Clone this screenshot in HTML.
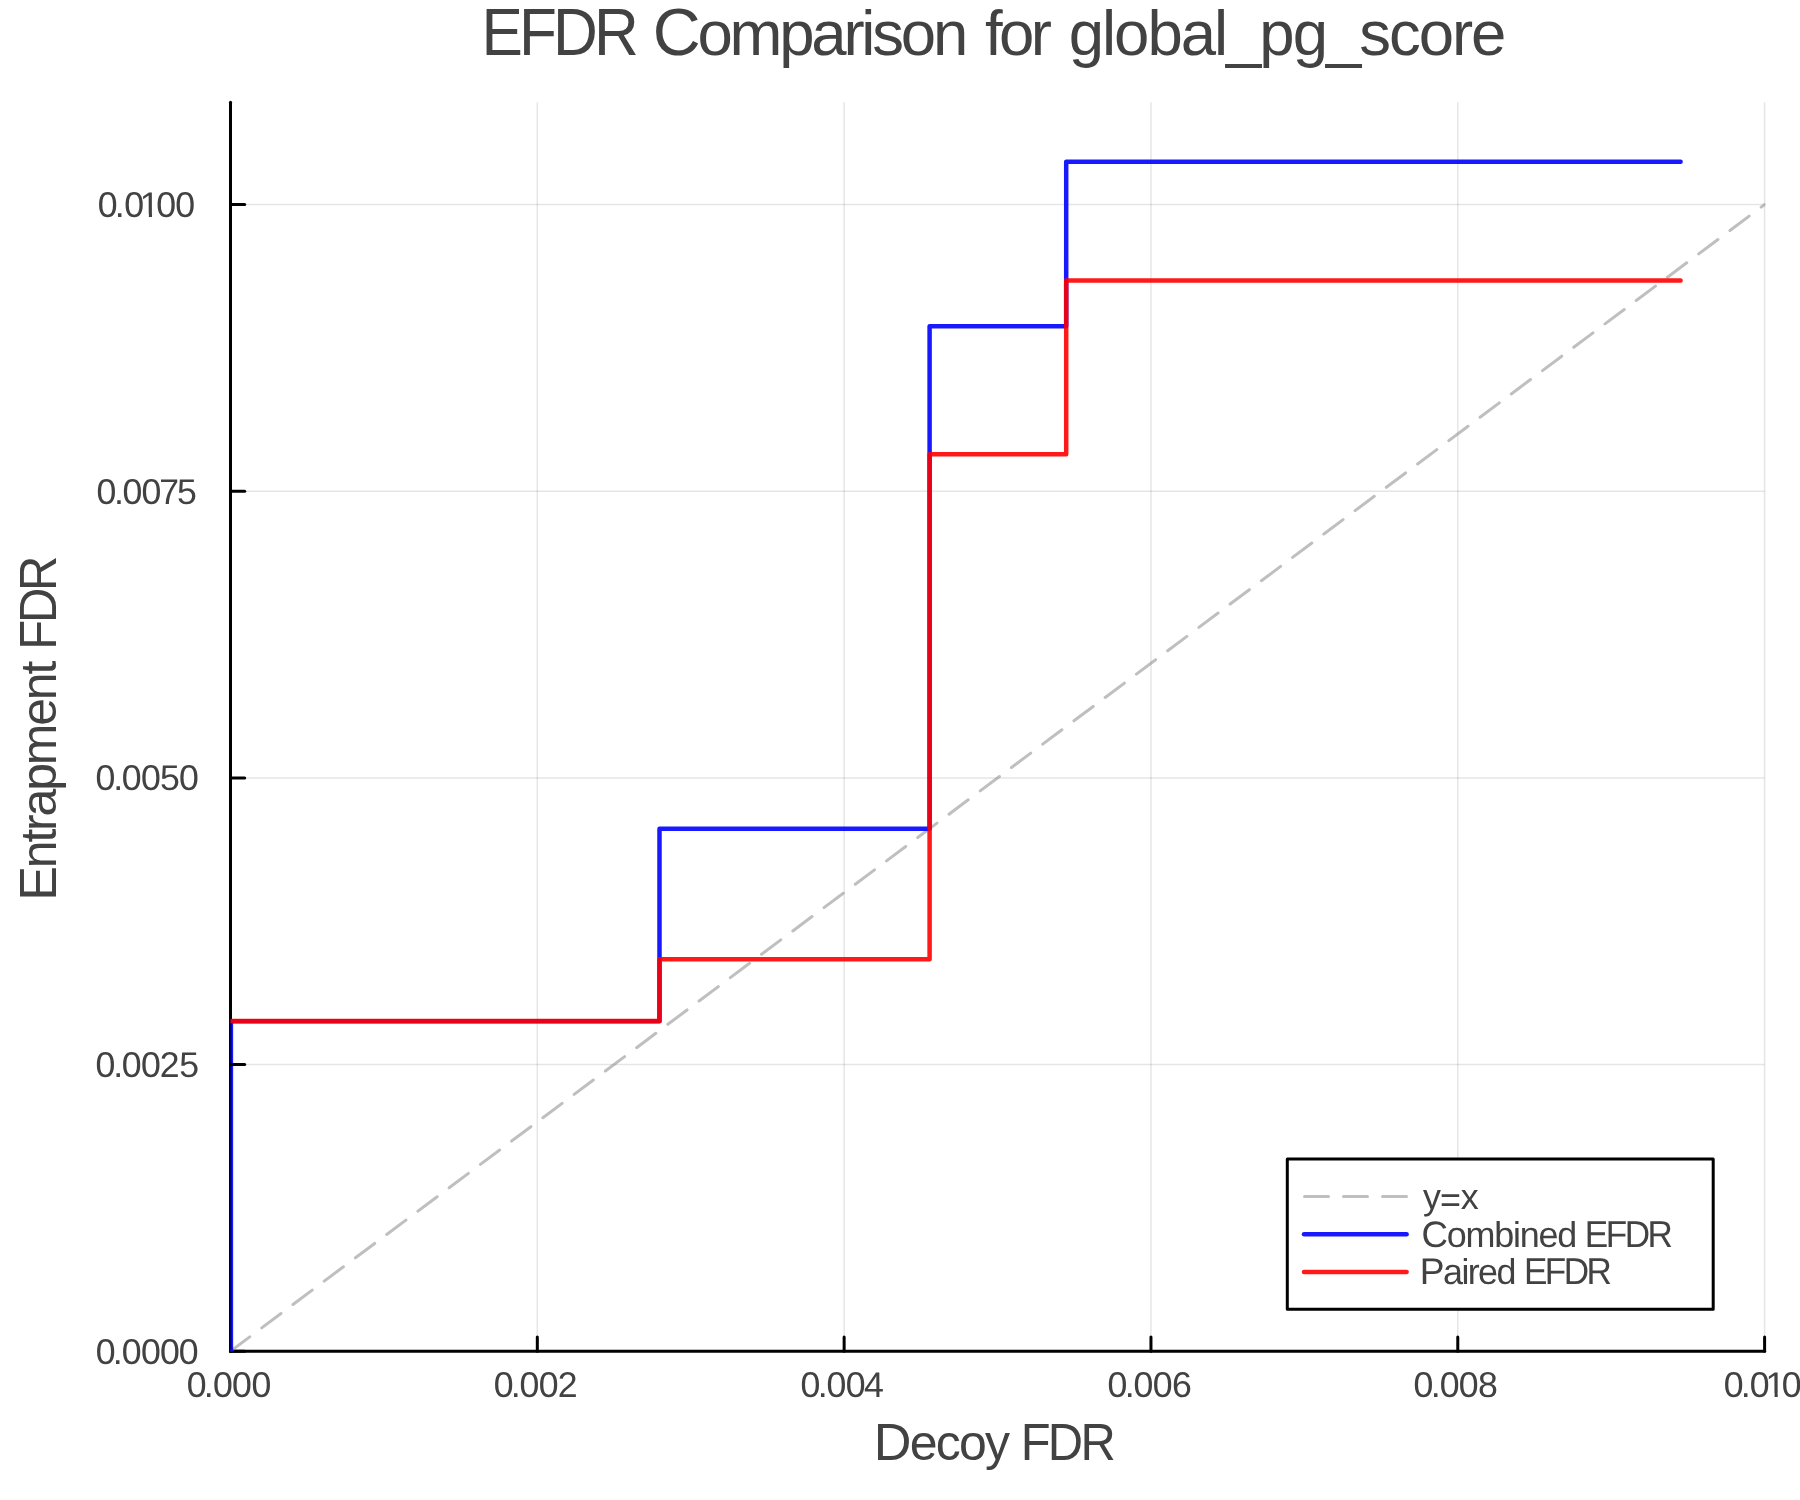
<!DOCTYPE html>
<html lang="en"><head><meta charset="utf-8"><title>EFDR Comparison for global_pg_score</title>
<style>html,body{margin:0;padding:0;background:#fff}svg{display:block;will-change:transform}text{font-family:"Liberation Sans", sans-serif;fill:#424242}</style>
</head><body>
<svg width="1800" height="1500" viewBox="0 0 1800 1500">
<rect width="1800" height="1500" fill="#fff"/>
<defs><clipPath id="plot"><rect x="230.50" y="102.20" width="1534.90" height="1249.40"/></clipPath></defs>
<g stroke="#000" stroke-opacity="0.1" stroke-width="1.5" fill="none">
<line x1="537.32" y1="102.20" x2="537.32" y2="1351.20"/>
<line x1="844.14" y1="102.20" x2="844.14" y2="1351.20"/>
<line x1="1150.96" y1="102.20" x2="1150.96" y2="1351.20"/>
<line x1="1457.78" y1="102.20" x2="1457.78" y2="1351.20"/>
<line x1="1764.60" y1="102.20" x2="1764.60" y2="1351.20"/>
<line x1="230.50" y1="1064.55" x2="1764.60" y2="1064.55"/>
<line x1="230.50" y1="777.90" x2="1764.60" y2="777.90"/>
<line x1="230.50" y1="491.25" x2="1764.60" y2="491.25"/>
<line x1="230.50" y1="204.60" x2="1764.60" y2="204.60"/>
</g>
<g stroke="#000" stroke-width="3" stroke-linecap="round" fill="none">
<line x1="230.50" y1="1351.20" x2="1764.60" y2="1351.20"/>
<line x1="230.50" y1="102.20" x2="230.50" y2="1351.20"/>
<line x1="230.50" y1="1351.20" x2="230.50" y2="1337.00"/>
<line x1="230.50" y1="1351.20" x2="244.70" y2="1351.20"/>
</g>
<g clip-path="url(#plot)" fill="none" stroke-linejoin="round" stroke-linecap="round">
<line x1="230.50" y1="1351.20" x2="1764.60" y2="204.60" stroke="#808080" stroke-opacity="0.5" stroke-width="3" stroke-dasharray="24 15"/>
<path d="M230.90 1351.20 V1021.35 H659.50 V828.70 H929.60 V326.15 H1066.20 V161.70 H1680.60" stroke="#0000ff" stroke-opacity="0.9" stroke-width="4.5"/>
<path d="M230.90 1021.10 H659.50 V959.20 H929.60 V454.25 H1066.20 V280.60 H1680.60" stroke="#ff0000" stroke-opacity="0.9" stroke-width="4.5"/>
</g>
<g stroke="#000" stroke-width="3" stroke-linecap="round" fill="none">
<line x1="537.32" y1="1351.20" x2="537.32" y2="1337.00"/>
<line x1="844.14" y1="1351.20" x2="844.14" y2="1337.00"/>
<line x1="1150.96" y1="1351.20" x2="1150.96" y2="1337.00"/>
<line x1="1457.78" y1="1351.20" x2="1457.78" y2="1337.00"/>
<line x1="1764.60" y1="1351.20" x2="1764.60" y2="1337.00"/>
<line x1="230.50" y1="1064.55" x2="244.70" y2="1064.55"/>
<line x1="230.50" y1="777.90" x2="244.70" y2="777.90"/>
<line x1="230.50" y1="491.25" x2="244.70" y2="491.25"/>
<line x1="230.50" y1="204.60" x2="244.70" y2="204.60"/>
</g>
<rect x="1287.3" y="1158.9" width="425.9" height="150.3" fill="#fff" stroke="#000" stroke-width="3" stroke-linejoin="round"/>
<g fill="none" stroke-linecap="round">
<line x1="1304.5" y1="1196.45" x2="1408" y2="1196.45" stroke="#808080" stroke-opacity="0.5" stroke-width="3" stroke-dasharray="24 15"/>
<line x1="1304" y1="1234.25" x2="1406.6" y2="1234.25" stroke="#0000ff" stroke-opacity="0.9" stroke-width="4.5"/>
<line x1="1304" y1="1271.9" x2="1406.6" y2="1271.9" stroke="#ff0000" stroke-opacity="0.9" stroke-width="4.5"/>
</g>
<text transform="translate(481.49 54.90) scale(1 1.0670)" font-size="62.10" textLength="157.38" lengthAdjust="spacing">EFDR</text>
<text transform="translate(652.73 54.90)" font-size="63.50" textLength="315.49" lengthAdjust="spacing"><tspan font-size="66.29">C</tspan>omparison</text>
<text transform="translate(985.12 54.90)" font-size="63.50" textLength="66.76" lengthAdjust="spacing">for</text>
<text transform="translate(1068.76 54.90)" font-size="63.50" textLength="437.64" lengthAdjust="spacing">global_pg_score</text>
<text transform="translate(873.73 1459.70)" font-size="50.00" textLength="136.40" lengthAdjust="spacing"><tspan font-size="52.20">D</tspan>ecoy</text>
<text transform="translate(1020.68 1459.70) scale(1 1.0670)" font-size="48.90" textLength="95.13" lengthAdjust="spacing">FDR</text>
<text transform="translate(56.20 900.83) rotate(-90)" font-size="50.00" textLength="240.18" lengthAdjust="spacing"><tspan font-size="52.20">E</tspan>ntrapment</text>
<text transform="translate(56.20 649.78) rotate(-90) scale(1 1.0670)" font-size="48.90" textLength="94.12" lengthAdjust="spacing">FDR</text>
<text transform="translate(1421.41 1246.80) skewX(0.2)" font-size="36.00" textLength="155.77" lengthAdjust="spacing"><tspan font-size="36.72">C</tspan>ombined</text>
<text transform="translate(1584.72 1246.80) scale(1 1.0670) skewX(0.2)" font-size="35.21" textLength="88.27" lengthAdjust="spacing">EFDR</text>
<text transform="translate(1419.87 1283.90) skewX(0.2)" font-size="36.00" textLength="96.60" lengthAdjust="spacing"><tspan font-size="37.26">P</tspan>aired</text>
<text transform="translate(1523.88 1283.90) scale(1 1.0670) skewX(0.2)" font-size="35.21" textLength="87.99" lengthAdjust="spacing">EFDR</text>
<text transform="translate(0 1208.80) skewX(0.2)" font-size="36.00"><tspan x="1422.94">y</tspan><tspan x="1440.02" dy="3.6">=</tspan><tspan x="1460.78" dy="-3.6">x</tspan></text>
<text transform="translate(0 1396.60) skewX(0.2)" x="186.7 203.8 213.0 232.0 251.4" font-size="35.80">0.000</text>
<text transform="translate(0 1396.60) skewX(0.2)" x="493.7 510.8 519.6 538.8 557.8" font-size="35.80">0.002</text>
<text transform="translate(0 1396.60) skewX(0.2)" x="800.6 817.8 826.6 845.8 864.0" font-size="35.80">0.004</text>
<text transform="translate(0 1396.60) skewX(0.2)" x="1107.6 1124.8 1133.6 1152.8 1172.1" font-size="35.80">0.006</text>
<text transform="translate(0 1396.60) skewX(0.2)" x="1413.6 1430.8 1439.8 1458.8 1478.0" font-size="35.80">0.008</text>
<text transform="translate(0 1363.60) skewX(0.2)" x="95.8 112.8 121.8 140.9 159.9 178.7" font-size="35.80">0.0000</text>
<text transform="translate(0 1076.95) skewX(0.2)" x="95.6 113.2 121.8 140.9 159.8 179.2" font-size="35.80">0.0025</text>
<text transform="translate(0 790.30) skewX(0.2)" x="95.6 113.2 121.8 140.9 160.1 179.0" font-size="35.80">0.0050</text>
<text transform="translate(0 503.65) skewX(0.2)" x="96.6 114.0 122.6 141.5 159.2 177.1" font-size="35.80">0.0075</text>
<text transform="translate(0 217.00) skewX(0.2)" x="97.65 114.75 124.15 139.85 156.15 175.15" font-size="35.80">0.0100</text>
<rect x="141.98" y="213.78" width="6.88" height="3.87" fill="#fff"/>
<rect x="152.01" y="213.78" width="6.60" height="3.87" fill="#fff"/>
<text transform="translate(0 1396.60) skewX(0.2)" x="1723.65 1740.75 1749.85 1765.55 1781.85" font-size="35.80">0.010</text>
<rect x="1767.68" y="1393.38" width="6.88" height="3.87" fill="#fff"/>
<rect x="1777.71" y="1393.38" width="6.60" height="3.87" fill="#fff"/>
</svg>
</body></html>
